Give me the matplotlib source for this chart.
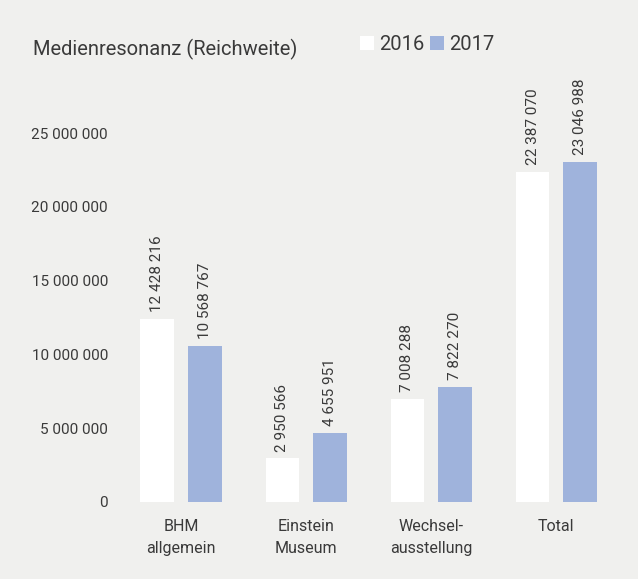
import matplotlib.pyplot as plt
import numpy as np

kategorien = ["BHM\nallgemein", "Einstein\nMuseum", "Wechsel-\nausstellung", "Total"]
werte_2016 = [12428216, 2950566, 7008288, 22387070]
werte_2017 = [10568767, 4655951, 7822270, 23046988]
y_ticks = [0, 5000000, 10000000, 15000000, 20000000, 25000000]

hintergrund = "#f0f0ee"
blau = "#9fb3dc"
textfarbe = "#3a3a3a"

plt.rcParams["font.family"] = ["Roboto", "DejaVu Sans"]

fig = plt.figure(figsize=(6.38, 5.79), dpi=100, facecolor=hintergrund)
ax = fig.add_axes([0.180, 0.133, 0.784, 0.637], facecolor=hintergrund)

x = np.arange(len(kategorien))
breite = 0.27
b16 = ax.bar(x - 0.19, werte_2016, breite, color="white", label="2016")
b17 = ax.bar(x + 0.19, werte_2017, breite, color=blau, label="2017")


def fmt(v):
    return f"{v:,}".replace(",", " ")


# Werte über den Balken, senkrecht
for bars, werte in [(b16, werte_2016), (b17, werte_2017)]:
    for b, v in zip(bars, werte):
        ax.annotate(fmt(v), (b.get_x() + b.get_width() / 2, v),
                    xytext=(0, 5), textcoords="offset points",
                    rotation=90, ha="center", va="bottom",
                    fontsize=11, color=textfarbe)

ax.set_xlim(-0.53, 3.47)
ax.set_ylim(0, 25000000)
ax.set_yticks(y_ticks)
ax.set_yticklabels([fmt(t) for t in y_ticks], fontsize=11, color=textfarbe)
ax.set_xticks(x)
ax.set_xticklabels(kategorien, fontsize=11.5, color=textfarbe, linespacing=1.6)
ax.tick_params(length=0)
ax.tick_params(axis="y", pad=5)
ax.tick_params(axis="x", pad=12)
for s in ax.spines.values():
    s.set_visible(False)

fig.text(0.052, 0.904, "Medienresonanz (Reichweite)", fontsize=14.5,
         color=textfarbe, va="baseline")
fig.legend(handles=[b16, b17], labels=["2016", "2017"], ncol=2,
           loc="lower left", bbox_to_anchor=(0.548, 0.889), frameon=False,
           fontsize=14.5, handlelength=0.7, handleheight=0.7,
           handletextpad=0.25, columnspacing=0.3, borderpad=0,
           labelcolor=textfarbe)

plt.savefig("out.png", dpi=100, facecolor=hintergrund)
